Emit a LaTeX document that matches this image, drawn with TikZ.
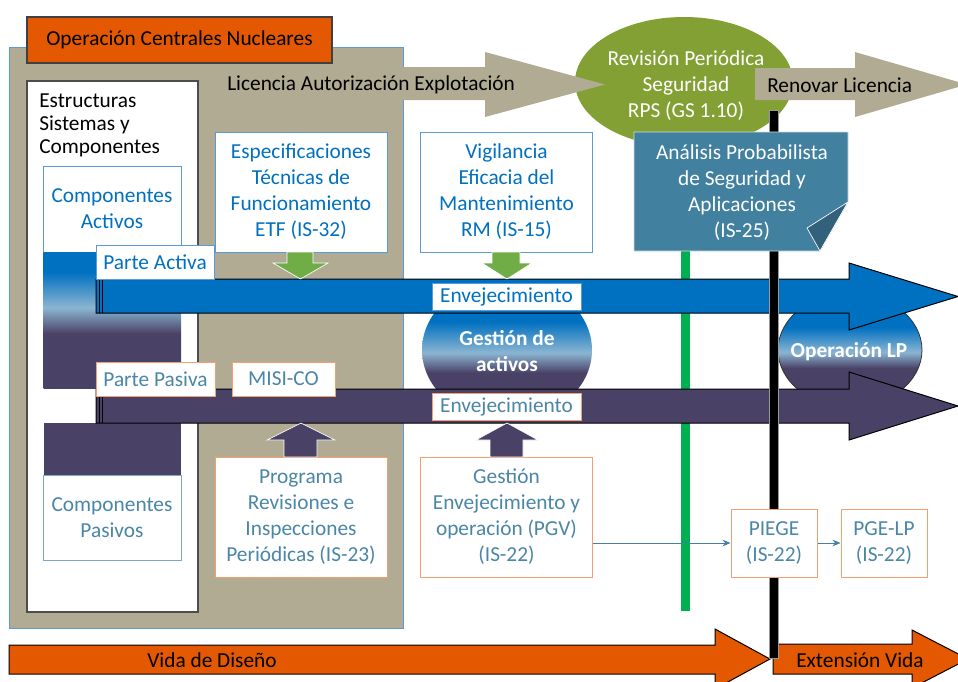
\documentclass[tikz,border=0pt]{standalone}
\usepackage{fontspec}
\setmainfont{Carlito}
\usetikzlibrary{arrows.meta}
\definecolor{tanbg}{HTML}{B1AB93}
\definecolor{orng}{HTML}{E35800}
\definecolor{bband}{HTML}{0070C0}
\definecolor{pband}{HTML}{4A4266}
\definecolor{lblue}{HTML}{8BB5D2}
\definecolor{olivegr}{HTML}{82A034}
\definecolor{apsc}{HTML}{41809F}
\definecolor{apsd}{HTML}{33617B}
\definecolor{gline}{HTML}{00B050}
\definecolor{garrow}{HTML}{70AD47}
\definecolor{btext}{HTML}{0070C0}
\definecolor{ttext}{HTML}{4A86A6}
\definecolor{oborder}{HTML}{F4A070}
\definecolor{bborder}{HTML}{5B9BD5}
\definecolor{pborder}{HTML}{7FA8C4}
\definecolor{connc}{HTML}{41809F}
\pgfdeclareverticalshading{colshade}{100bp}{color(0bp)=(pband); color(45bp)=(pband); color(54.5bp)=(lblue); color(67.6bp)=(bband); color(100bp)=(bband)}
\pgfdeclareverticalshading{ellshade}{100bp}{color(0bp)=(pband); color(42bp)=(pband); color(49bp)=(lblue); color(60bp)=(bband); color(100bp)=(bband)}
\begin{document}
\begin{tikzpicture}[x=0.75pt,y=-0.75pt,font=\fontsize{16}{19.5}\selectfont,
  bx/.style={draw, line width=0.75pt, fill=white, inner sep=0pt, align=center},
  bluebox/.style={bx, draw=bborder, text=btext},
  orbox/.style={bx, draw=oborder, text=ttext},
  bigbox/.style={minimum width=129pt, minimum height=90pt},
  lbl/.style={minimum height=25.5pt},
  envlbl/.style={minimum width=111.75pt, minimum height=20.25pt},
  smallbox/.style={orbox, minimum width=64.5pt, minimum height=51pt},
  blockarrow/.style={draw=white, line width=0.5pt},
  conn/.style={draw=connc, line width=0.75pt, -{Stealth[length=6pt,width=5pt]}}]
\useasboundingbox (0,0) rectangle (958,682);
\clip (0,0) rectangle (958,682);
\fill[white] (0,0) rectangle (958,682);
% background panel
\filldraw[fill=tanbg, draw=bborder, line width=0.75pt] (9,47) rectangle (403,628);
\node[draw=black!75, fill=orng, line width=0.9pt, minimum width=228.75pt, minimum height=34.5pt, inner sep=0pt] (title) at (179.5,40) {Operación Centrales Nucleares};
% structures box
\filldraw[fill=white, draw=black!70, line width=1pt] (27,81) rectangle (198,612);
\node[anchor=north west, align=left, inner sep=0pt, font=\fontsize{16}{17}\selectfont] (esc) at (39,94) {Estructuras\\Sistemas y\\Componentes};
\node[bluebox, minimum width=103.5pt, minimum height=64.5pt] (ca) at (112,209) {Componentes\\Activos};
\shade[shading=colshade] (43.5,252) rectangle (181,388);
\fill[pband] (43.5,423) rectangle (181,475);
\node[bx, draw=pborder, text=ttext, minimum width=103.5pt, minimum height=63.75pt] (cp) at (112,517.5) {Componentes\\Pasivos};
% programme boxes
\node[bluebox, bigbox] (etf) at (301,192) {Especificaciones\\Técnicas de\\Funcionamiento\\ETF (IS-32)};
\node[bluebox, bigbox] (rm) at (506.5,192) {Vigilancia\\Eficacia del\\Mantenimiento\\RM (IS-15)};
\node[orbox, bigbox] (pri) at (301,517) {Programa\\Revisiones e\\Inspecciones\\Periódicas (IS-23)};
\node[orbox, bigbox] (pgv) at (506.5,517) {Gestión\\Envejecimiento y\\operación (PGV)\\(IS-22)};
% RPS ellipse
\fill[olivegr] (684,82) ellipse [x radius=81.75pt, y radius=48.75pt];
\node[text=white, align=center, inner sep=0pt] (rps) at (686,86) {Revisión Periódica\\Seguridad\\RPS (GS 1.10)};
% licence arrows
\fill[tanbg] (352,67) -- (485,67) -- (485,52) -- (605,84.5) -- (485,117) -- (485,100) -- (352,100) -- cycle;
\node[anchor=west, inner sep=0pt] (lic) at (227,85) {Licencia Autorización Explotación};
\fill[tanbg] (755,68) -- (855,68) -- (855,52) -- (967,84.5) -- (855,117) -- (855,100) -- (755,100) -- cycle;
\node[anchor=west, inner sep=0pt] (ren) at (767,85) {Renovar Licencia};
% green vertical line
\fill[gline] (681,240) rectangle (690,611);
% ellipses
\shade[shading=ellshade] (507,350) ellipse [x radius=63.75pt, y radius=53.25pt];
\node[text=white, align=center, inner sep=0pt, font=\fontsize{16}{19.5}\selectfont\bfseries] (gda) at (507,351.5) {Gestión de\\activos};
\shadedraw[shading=ellshade, draw=black!80, line width=0.6pt] (850,350) ellipse [x radius=54pt, y radius=42.75pt];
\node[text=white, inner sep=0pt, font=\fontsize{16}{19.5}\selectfont\bfseries] (olp) at (849,352) {Operación LP};
% bands
\filldraw[fill=bband, draw=black, line width=0.75pt] (96,279) -- (849,279) -- (849,263) -- (958,296.5) -- (849,330) -- (849,313) -- (96,313) -- cycle;
\filldraw[fill=pband, draw=black, line width=0.75pt] (96,389) -- (849,389) -- (849,372) -- (958,406) -- (849,440) -- (849,423) -- (96,423) -- cycle;
\draw[black, line width=0.6pt] (99,279) -- (99,313) (102,279) -- (102,313) (99,389) -- (99,423) (102,389) -- (102,423);
% bottom life arrows
\filldraw[fill=orng, draw=black, line width=0.75pt] (9,645) -- (715,645) -- (715,629) -- (770,659) -- (715,689) -- (715,674) -- (9,674) -- cycle;
\node[inner sep=0pt] (vdd) at (212,660) {Vida de Diseño};
\filldraw[fill=orng, draw=black, line width=0.75pt] (773,644) -- (912,644) -- (912,630) -- (968,659) -- (912,688) -- (912,674) -- (773,674) -- cycle;
\node[inner sep=0pt] (ext) at (860,660) {Extensión Vida};
% black vertical line
\filldraw[fill=black, draw=black!40, line width=0.5pt] (769,110) rectangle (778,658);
% APS box with folded corner
\filldraw[fill=apsc, draw=white!75!apsc, line width=0.5pt] (634,132) -- (848,132) -- (848,202) -- (820,251) -- (634,251) -- cycle;
\filldraw[fill=apsd, draw=white, line width=0.5pt] (848,202) -- (807,228) -- (820,251) -- cycle;
\node[text=white, align=center, inner sep=0pt] (aps) at (742,192.5) {Análisis Probabilista\\de Seguridad y\\Aplicaciones\\(IS-25)};
% labels
\node[bluebox, lbl, minimum width=88.5pt] (pa) at (155,262) {Parte Activa};
\node[orbox, lbl, minimum width=89.25pt] (pp) at (155.5,379) {Parte Pasiva};
\node[orbox, lbl, minimum width=77.25pt] (misi) at (283.5,379) {MISI-CO};
\node[bluebox, envlbl] (env1) at (506.5,296.5) {Envejecimiento};
\node[orbox, envlbl] (env2) at (506.5,406.5) {Envejecimiento};
% block arrows
\filldraw[fill=garrow, blockarrow] (287,252) -- (313,252) -- (313,263) -- (328,263) -- (300.5,279) -- (273,263) -- (287,263) -- cycle;
\filldraw[fill=garrow, blockarrow] (492,252) -- (520,252) -- (520,263) -- (532,263) -- (507,279) -- (482,263) -- (492,263) -- cycle;
\filldraw[fill=pband, blockarrow] (284,457) -- (317,457) -- (317,440) -- (335,440) -- (301,423) -- (267,440) -- (284,440) -- cycle;
\filldraw[fill=pband, blockarrow] (490,457) -- (523,457) -- (523,440) -- (538,440) -- (507,423) -- (476,440) -- (490,440) -- cycle;
% PIEGE chain
\node[smallbox] (piege) at (774,543) {PIEGE\\(IS-22)};
\node[smallbox] (pgelp) at (884,543) {PGE-LP\\(IS-22)};
\draw[conn] (pgv.east |- piege.west) -- (piege.west);
\draw[conn] (piege.east) -- (pgelp.west);
\end{tikzpicture}
\end{document}
